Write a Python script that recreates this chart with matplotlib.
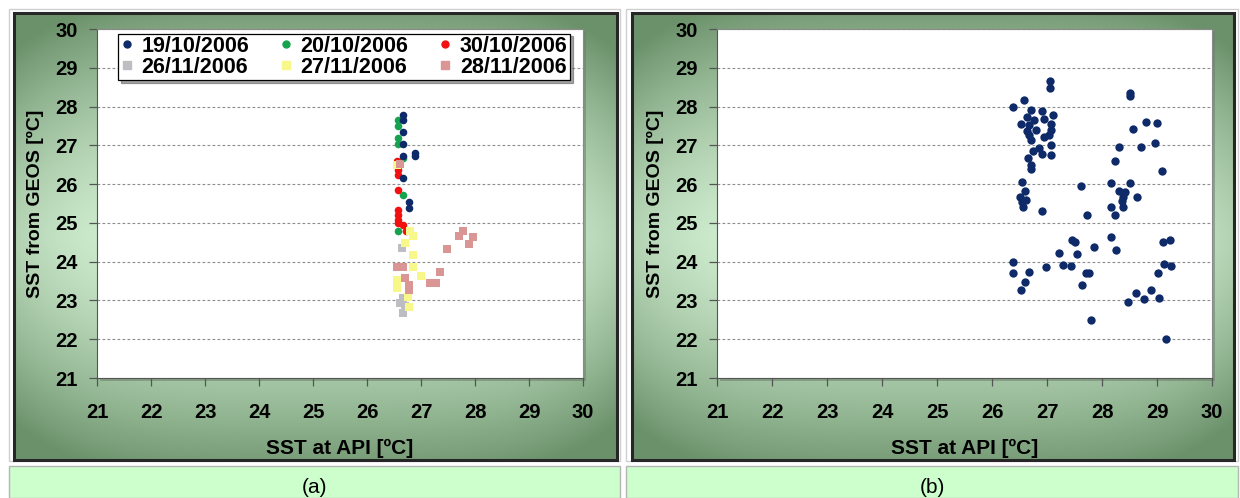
import numpy as np
import matplotlib
matplotlib.use("Agg")
import matplotlib.pyplot as plt
from matplotlib.patches import Rectangle
from matplotlib.lines import Line2D

W, H = 1240, 498

# ---- panel (a): SST per date ----
navy_x = [26.67, 26.67, 26.67, 26.67, 26.67, 26.88, 26.88, 26.67, 26.78, 26.78]
navy_y = [27.78, 27.65, 27.35, 27.03, 26.73, 26.81, 26.73, 26.15, 25.55, 25.39]

green_x = [26.57, 26.57, 26.57, 26.57, 26.67, 26.67, 26.57]
green_y = [27.65, 27.51, 27.18, 27.03, 26.67, 25.72, 24.78]

red_x = [26.55, 26.57, 26.57, 26.57, 26.57, 26.57, 26.57, 26.57, 26.67, 26.72]
red_y = [26.60, 26.37, 26.24, 25.85, 25.34, 25.21, 25.08, 24.99, 24.95, 24.80]

gray_x = [26.64, 26.67, 26.62, 26.70, 26.67]
gray_y = [24.35, 23.06, 22.93, 22.85, 22.67]

yellow_x = [26.55, 26.80, 26.86, 26.70, 26.86, 26.86, 27.00, 26.55, 26.55, 26.76, 26.78]
yellow_y = [26.50, 24.78, 24.65, 24.48, 24.18, 23.87, 23.62, 23.53, 23.32, 23.10, 22.84]

pink_x = [26.62, 26.55, 26.67, 26.70, 26.77, 26.77, 27.17, 27.28, 27.36, 27.48, 27.71, 27.77, 27.88, 27.97]
pink_y = [26.51, 23.87, 23.87, 23.57, 23.40, 23.27, 23.45, 23.45, 23.73, 24.32, 24.65, 24.78, 24.46, 24.63]

# ---- panel (b): all matched points ----
all_x = [27.06, 27.06, 26.39, 26.59, 26.71, 26.90, 27.10, 26.64, 26.77, 26.53, 26.95, 27.07,
         26.68, 26.80, 26.64, 27.07, 26.68, 26.94, 27.04, 26.70, 27.07, 26.86, 26.74, 26.90,
         27.07, 26.65, 26.71, 26.70, 26.54, 26.60, 26.51, 26.62, 26.54, 26.57, 26.90,
         28.50, 28.50, 28.80, 29.00, 28.57, 28.30, 28.71, 28.97, 28.24, 29.09, 27.62, 28.17,
         28.50, 28.30, 28.42, 28.39, 28.63, 28.37, 28.16, 28.39, 27.72, 28.24,
         26.39, 26.39, 26.67, 26.60, 26.53, 26.99, 27.21, 27.29, 27.44, 27.45, 27.51, 27.55,
         27.71, 27.76, 27.63, 27.86, 27.80, 28.16, 28.25, 28.48, 28.62, 28.76, 28.89, 29.04,
         29.02, 29.11, 29.24, 29.13, 29.26, 29.16]
all_y = [28.66, 28.48, 28.00, 28.16, 27.91, 27.89, 27.78, 27.72, 27.65, 27.56, 27.67, 27.56,
         27.52, 27.39, 27.38, 27.39, 27.26, 27.22, 27.26, 27.13, 27.00, 26.94, 26.85, 26.78,
         26.76, 26.67, 26.48, 26.40, 26.06, 25.83, 25.66, 25.59, 25.53, 25.42, 25.30,
         28.36, 28.26, 27.61, 27.57, 27.41, 26.96, 26.96, 27.05, 26.59, 26.35, 25.96, 26.03,
         26.03, 25.81, 25.79, 25.66, 25.67, 25.57, 25.41, 25.42, 25.20, 25.20,
         23.98, 23.70, 23.73, 23.47, 23.26, 23.85, 24.22, 23.92, 23.90, 24.55, 24.50, 24.21,
         23.70, 23.70, 23.40, 24.37, 22.50, 24.64, 24.31, 22.96, 23.20, 23.04, 23.26, 23.07,
         23.70, 24.50, 24.55, 23.95, 23.90, 22.00]

ticks = list(range(21, 31))
dates = ["19/10/2006", "20/10/2006", "30/10/2006", "26/11/2006", "27/11/2006", "28/11/2006"]
xlabel = "SST at API [ºC]"
ylabel = "SST from GEOS [ºC]"
captions = ["(a)", "(b)"]

C_NAVY, C_GREEN, C_RED = "#0e2a68", "#16a350", "#f21010"
C_GRAY, C_YELLOW, C_PINK = "#bdbdc4", "#f7f78a", "#d99694"

REG = ["Liberation Sans", "DejaVu Sans"]

fig = plt.figure(figsize=(W / 100, H / 100), dpi=100)
fig.patch.set_facecolor("white")


def fbox(x0, y0, x1, y1):
    """pixel box (top-left origin) -> figure fraction rect"""
    return [x0 / W, 1 - y1 / H, (x1 - x0) / W, (y1 - y0) / H]


def frect(x0, y0, x1, y1, **kw):
    l, b, w, h = fbox(x0, y0, x1, y1)
    r = Rectangle((l, b), w, h, transform=fig.transFigure, **kw)
    fig.patches.append(r)
    return r


# green gradient for the chart frames
gh, gw = 200, 300
u = np.linspace(-1, 1, gw)[None, :]
v = np.linspace(-1, 1, gh)[:, None]
f = np.clip(0.80 * np.abs(v) ** 1.5 + 0.30 * np.abs(u) ** 4 + 0.08, 0, 1)
light = np.array([0.87, 0.98, 0.87])
dark = np.array([0.42, 0.57, 0.42])
grad = light[None, None, :] * (1 - f[..., None]) + dark[None, None, :] * f[..., None]

cells = [(9, 9, 620, 461), (626, 9, 1238, 461)]
frames = [(14, 13, 617, 460), (632, 13, 1234, 460)]
plots = [(97, 29, 583, 378), (717, 29, 1212, 378)]
caps = [(9, 466, 620, 498), (626, 466, 1238, 498)]

for cell, frm, pl, cap, ctext in zip(cells, frames, plots, caps, captions):
    frect(*cell, facecolor="none", edgecolor="#cfcfcf", lw=1.0, zorder=0)
    bg = fig.add_axes(fbox(*frm), zorder=1)
    bg.imshow(grad, aspect="auto", extent=[0, 1, 0, 1], interpolation="bicubic")
    bg.set_axis_off()
    frect(*frm, facecolor="none", edgecolor="#262626", lw=2.2, zorder=2)
    # soft shadow under the plotting area
    frect(pl[0] + 3, pl[1] + 3, pl[2] + 3, pl[3] + 3, facecolor="#6b7f6b",
          edgecolor="none", alpha=0.55, zorder=2)
    frect(*cap, facecolor="#ccffcc", edgecolor="#b5b5b5", lw=1.0, zorder=0)
    l, b, w, h = fbox(*cap)
    fig.text(l + w / 2, b + h / 2 - 0.012, ctext, ha="center", va="center",
             fontsize=15, family=REG, color="black")

axes = []
for pl in plots:
    ax = fig.add_axes(fbox(*pl), zorder=3)
    ax.set_facecolor("white")
    ax.set_xlim(21, 30)
    ax.set_ylim(21, 30)
    ax.set_xticks(ticks)
    ax.set_yticks(ticks)
    ax.grid(axis="y", color="#8c8c8c", lw=0.8, linestyle=(0, (2.5, 2)))
    ax.set_axisbelow(True)
    for s in ax.spines.values():
        s.set_color("#8a8a8a")
        s.set_linewidth(0.8)
    ax.spines["left"].set_color("#555555")
    ax.spines["bottom"].set_color("#555555")
    ax.tick_params(direction="out", length=6, width=0.9, color="#555555",
                   labelsize=14.5)
    ax.tick_params(axis="x", pad=12)
    ax.tick_params(axis="y", pad=8)
    for lab in ax.get_xticklabels() + ax.get_yticklabels():
        lab.set_family(REG)
        lab.set_fontweight("bold")
    ax.set_xlabel(xlabel, fontsize=15, fontweight="bold", family=REG, labelpad=12)
    ax.set_ylabel(ylabel, fontsize=14, fontweight="bold", family=REG, labelpad=8)
    axes.append(ax)

ax_a, ax_b = axes
ax_a.scatter(navy_x, navy_y, s=30, c=C_NAVY, marker="o", zorder=4, linewidths=0)
ax_a.scatter(green_x, green_y, s=30, c=C_GREEN, marker="o", zorder=3, linewidths=0)
ax_a.scatter(red_x, red_y, s=30, c=C_RED, marker="o", zorder=3, linewidths=0)
ax_a.scatter(gray_x, gray_y, s=36, c=C_GRAY, marker="s", zorder=3, linewidths=0)
ax_a.scatter(yellow_x, yellow_y, s=36, c=C_YELLOW, marker="s", zorder=3, linewidths=0)
ax_a.scatter(pink_x, pink_y, s=40, c=C_PINK, marker="s", zorder=3, linewidths=0)

handles = [
    Line2D([], [], ls="none", marker="o", ms=5, color=C_NAVY),
    Line2D([], [], ls="none", marker="s", ms=5.5, color=C_GRAY),
    Line2D([], [], ls="none", marker="o", ms=5, color=C_GREEN),
    Line2D([], [], ls="none", marker="s", ms=5.5, color=C_YELLOW),
    Line2D([], [], ls="none", marker="o", ms=5, color=C_RED),
    Line2D([], [], ls="none", marker="s", ms=5.5, color=C_PINK),
]
labels = [dates[0], dates[3], dates[1], dates[4], dates[2], dates[5]]
leg = ax_a.legend(handles, labels, ncol=3, loc="lower left",
                  bbox_to_anchor=(0.043, 0.854, 0.93, 0.129), mode="expand",
                  frameon=True, fancybox=False, shadow=True, borderaxespad=0,
                  handlelength=0.6, handletextpad=0.4, columnspacing=1.0,
                  labelspacing=0.0, borderpad=0.1,
                  prop={"family": REG, "weight": "bold", "size": 15.5})
leg.get_frame().set_edgecolor("black")
leg.get_frame().set_linewidth(0.9)

ax_b.scatter(all_x, all_y, s=36, c=C_NAVY, marker="o", zorder=3, linewidths=0)

fig.savefig("out.png", dpi=100)
